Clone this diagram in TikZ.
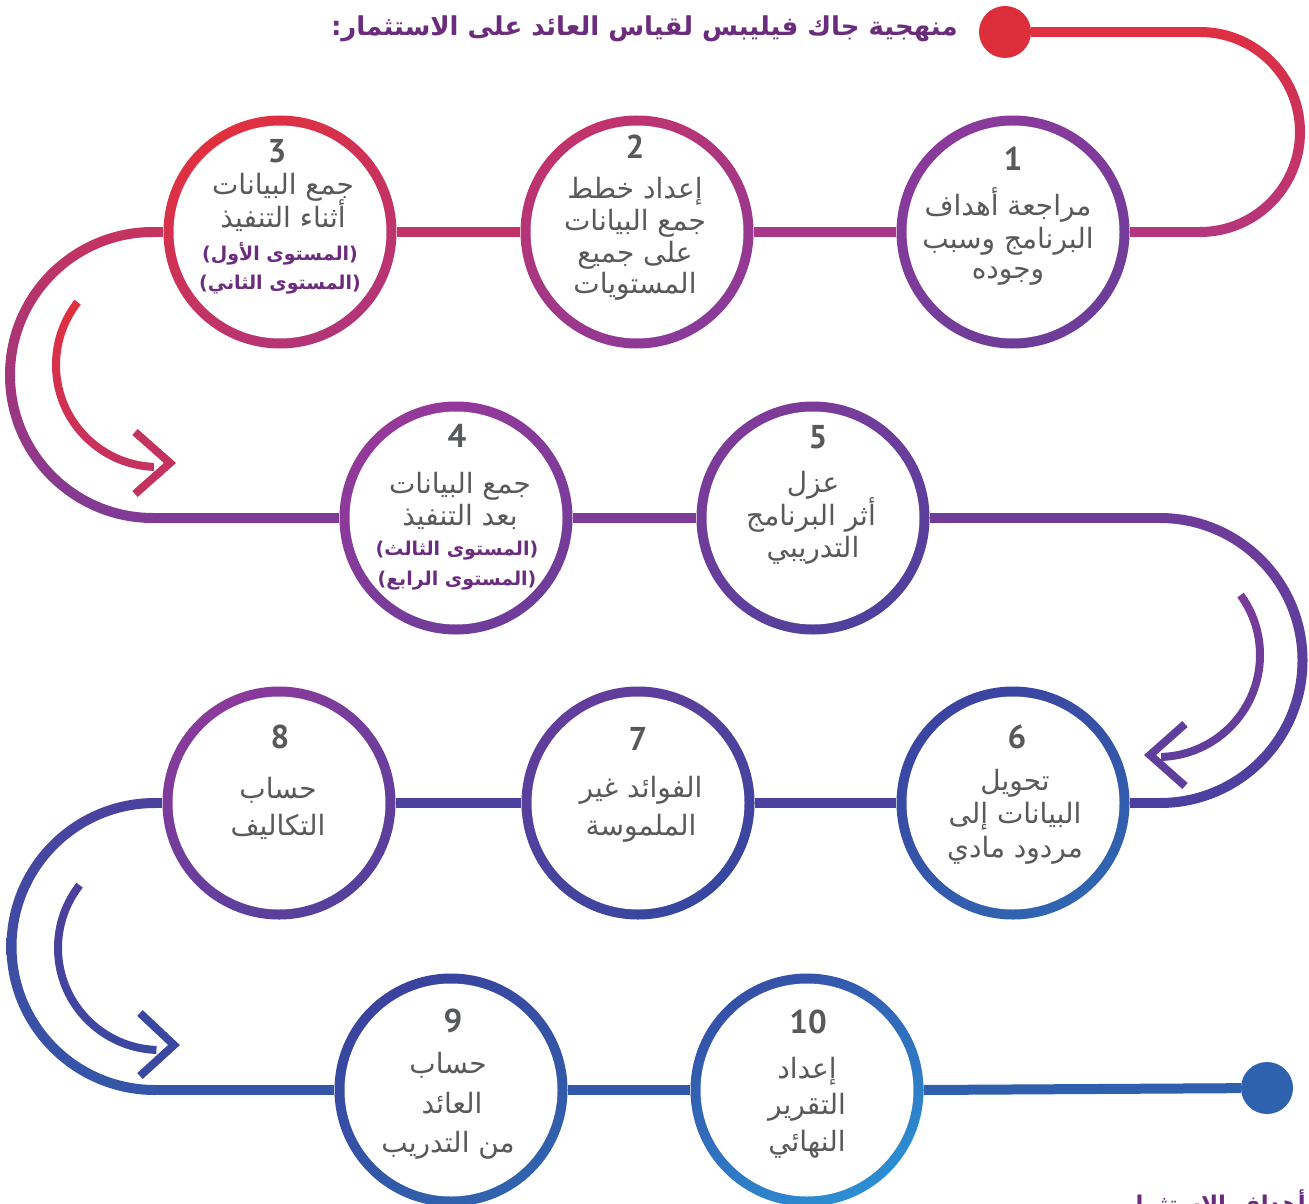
\documentclass[tikz,border=0pt]{standalone}
\usepackage{fontspec}
\usetikzlibrary{calc}
\TeXXeTstate=1
\newfontfamily\arabicfont[Script=Arabic]{DejaVu Sans}
\newfontfamily\numfont{PT Sans}
\definecolor{txtgray}{HTML}{58595B}
\definecolor{ttlpurple}{HTML}{6B2C7D}
% ring colours
\definecolor{ca1}{HTML}{8B3A9B}\definecolor{cb1}{HTML}{6C3D99}
\definecolor{ca2}{HTML}{C2336C}\definecolor{cb2}{HTML}{8A3A9B}
\definecolor{ca3}{HTML}{E1303E}\definecolor{cb3}{HTML}{B1357A}
\definecolor{ca4}{HTML}{95399A}\definecolor{cb4}{HTML}{6E3D99}
\definecolor{ca5}{HTML}{7F3B98}\definecolor{cb5}{HTML}{4E419D}
\definecolor{ca6}{HTML}{3B43A0}\definecolor{cb6}{HTML}{2F66B1}
\definecolor{ca7}{HTML}{633D9B}\definecolor{cb7}{HTML}{3647A0}
\definecolor{ca8}{HTML}{8A3A9B}\definecolor{cb8}{HTML}{55409C}
\definecolor{ca9}{HTML}{3A429D}\definecolor{cb9}{HTML}{3063AE}
\definecolor{ca10}{HTML}{3550A6}\definecolor{cb10}{HTML}{2C8ED3}
% line colours
\definecolor{lred}{HTML}{DE3040}
\definecolor{lmag}{HTML}{B5367E}
\definecolor{l12}{HTML}{A8378A}
\definecolor{l23}{HTML}{C2336A}
\definecolor{l3k}{HTML}{C6335F}
\definecolor{lk4}{HTML}{7F3A96}
\definecolor{l45}{HTML}{7E3B98}
\definecolor{l5k}{HTML}{6F3C98}
\definecolor{lk6}{HTML}{4B40A0}
\definecolor{lrow3}{HTML}{4A429E}
\definecolor{lk9}{HTML}{3456A8}
\definecolor{l910}{HTML}{3258A9}
\definecolor{lend}{HTML}{2F60AD}
\definecolor{dotred}{HTML}{DC2F3B}
\definecolor{dotblue}{HTML}{2F62AE}
\definecolor{arA}{HTML}{E2303E}\definecolor{arB}{HTML}{C43260}
\definecolor{arC}{HTML}{7A3B98}\definecolor{arD}{HTML}{5F3E9C}
\definecolor{arE}{HTML}{4F3F9C}\definecolor{arF}{HTML}{3A48A0}
\newcommand\halfring[8]{% cx cy r start end topcol botcol halfwidth
  \shade[top color=#6,bottom color=#7]
    ($(#1,#2)+({#4}:{#3+#8})$) arc[start angle=#4,end angle=#5,radius=#3+#8]
    -- ($(#1,#2)+({#5}:{#3-#8})$) arc[start angle=#5,end angle=#4,radius=#3-#8] -- cycle;}
\newcommand\tl[5]{\node[#4] (#1) at (#2,-#3) {#5};}
\begin{document}
\begin{tikzpicture}[x=1pt,y=1pt,
  ring/.style 2 args={circle, minimum size=233, inner sep=0pt, top color=#1, bottom color=#2, shading angle=30,
     path picture={\fill[white] (path picture bounding box.center) circle (106.5);}},
  body/.style={anchor=base, inner sep=0pt, text=txtgray, font=\arabicfont\fontsize{28}{32}\selectfont},
  sub/.style={anchor=base, inner sep=0pt, text=ttlpurple, font=\arabicfont\bfseries\fontsize{19}{22}\selectfont},
  num/.style={anchor=base, inner sep=0pt, text=txtgray, font=\numfont\bfseries\fontsize{33}{36}\selectfont},
  ttl/.style={inner sep=0pt, text=ttlpurple, font=\arabicfont\bfseries\fontsize{26}{30}\selectfont},
  conn/.style={line width=10pt},
  chev/.style={line width=8pt, line join=miter},
  enddot/.style={circle, minimum size=52, inner sep=0pt}
]
\useasboundingbox (0,0) rectangle (1309,-1204);
\fill[white] (0,0) rectangle (1309,-1204);

% curve coordinates
\coordinate (k1a) at (1200,-32);
\coordinate (k1b) at (1200,-232);
\coordinate (k2a) at (153,-232);
\coordinate (k2b) at (153,-518);
\coordinate (k3a) at (1160,-518);
\coordinate (k3b) at (1160,-803);
\coordinate (k4a) at (155,-803);
\coordinate (k4b) at (155,-1090);

% big curves
\halfring{1200}{-132}{100}{90}{-90}{lred}{lmag}{5}
\halfring{153}{-375}{143}{90}{270}{l3k}{lk4}{5}
\halfring{1160}{-660.5}{142.5}{90}{-90}{l5k}{lk6}{5}
\halfring{155}{-946.5}{143.5}{90}{270}{lrow3}{lk9}{5}

% inner arrows
\halfring{158}{-365}{102}{142}{268}{arA}{arB}{4}
\draw[chev, arB] (135,-432) -- (170,-463) -- (135,-494);
\halfring{1158}{-655}{102}{36}{-88}{arC}{arD}{4}
\draw[chev, arD] (1185,-724) -- (1150,-755) -- (1185,-786);
\halfring{160}{-948}{102}{142}{268}{arE}{arF}{4}
\draw[chev, arF] (140,-1013) -- (174,-1045) -- (140,-1076);

% dots
\node[enddot, fill=dotred] (startdot) at (1005,-32) {};
\node[enddot, fill=dotblue] (enddot) at (1267,-1088) {};

% rings
\node[ring={ca1}{cb1}] (c1) at (1013,-232) {};
\node[ring={ca2}{cb2}] (c2) at (637,-232) {};
\node[ring={ca3}{cb3}] (c3) at (280,-232) {};
\node[ring={ca4}{cb4}] (c4) at (456,-518) {};
\node[ring={ca5}{cb5}] (c5) at (813,-518) {};
\node[ring={ca6}{cb6}] (c6) at (1013,-803) {};
\node[ring={ca7}{cb7}] (c7) at (638,-803) {};
\node[ring={ca8}{cb8}] (c8) at (279,-803) {};
\node[ring={ca9}{cb9}] (c9) at (451,-1090) {};
\node[ring={ca10}{cb10}] (c10) at (807,-1090) {};

% connectors
\draw[conn, lred] (startdot) -- (k1a);
\draw[conn, lmag] (k1b) -- (c1.east);
\draw[conn, l12] (c1.west) -- (c2.east);
\draw[conn, l23] (c2.west) -- (c3.east);
\draw[conn, l3k] (c3.west) -- (k2a);
\draw[conn, lk4] (k2b) -- (c4.west);
\draw[conn, l45] (c4.east) -- (c5.west);
\draw[conn, l5k] (c5.east) -- (k3a);
\draw[conn, lk6] (k3b) -- (c6.east);
\draw[conn, lrow3] (c6.west) -- (c7.east);
\draw[conn, lrow3] (c7.west) -- (c8.east);
\draw[conn, lrow3] (c8.west) -- (k4a);
\draw[conn, lk9] (k4b) -- (c9.west);
\draw[conn, l910] (c9.east) -- (c10.west);
\draw[conn, lend] (c10.east) -- (enddot);

% title
\node[ttl, anchor=base east] (title) at (958,-36) {\beginR منهجية جاك فيليبس لقياس العائد على الاستثمار:\endR};

% texts
\node[num] (n1) at (1013,-170) {1};
\tl{t1a}{1008}{215}{body}{\beginR مراجعة أهداف\endR}
\tl{t1b}{1008}{248}{body}{\beginR البرنامج وسبب\endR}
\tl{t1c}{1008}{278}{body}{\beginR وجوده\endR}

\node[num] (n2) at (635,-159) {2};
\tl{t2a}{635}{198}{body}{\beginR إعداد خطط\endR}
\tl{t2b}{635}{230}{body}{\beginR جمع البيانات\endR}
\tl{t2c}{635}{262}{body}{\beginR على جميع\endR}
\tl{t2d}{635}{293}{body}{\beginR المستويات\endR}

\node[num] (n3) at (277,-163) {3};
\tl{t3a}{283}{194}{body}{\beginR جمع البيانات\endR}
\tl{t3b}{283}{227}{body}{\beginR أثناء التنفيذ\endR}
\tl{t3c}{280}{260}{sub}{\beginR (المستوى الأول)\endR}
\tl{t3d}{280}{289}{sub}{\beginR (المستوى الثاني)\endR}

\node[num] (n4) at (457,-447) {4};
\tl{t4a}{460}{493}{body}{\beginR جمع البيانات\endR}
\tl{t4b}{460}{525}{body}{\beginR بعد التنفيذ\endR}
\tl{t4c}{457}{555}{sub}{\beginR (المستوى الثالث)\endR}
\tl{t4d}{457}{585}{sub}{\beginR (المستوى الرابع)\endR}

\node[num] (n5) at (818,-448) {5};
\tl{t5a}{813}{492}{body}{\beginR عزل\endR}
\tl{t5b}{811}{525}{body}{\beginR أثر البرنامج\endR}
\tl{t5c}{813}{557}{body}{\beginR التدريبي\endR}

\node[num] (n6) at (1017,-748) {6};
\tl{t6a}{1015}{790}{body}{\beginR تحويل\endR}
\tl{t6b}{1015}{823}{body}{\beginR البيانات إلى\endR}
\tl{t6c}{1015}{857}{body}{\beginR مردود مادي\endR}

\node[num] (n7) at (638,-750) {7};
\tl{t7a}{641}{797}{body}{\beginR الفوائد غير\endR}
\tl{t7b}{641}{835}{body}{\beginR الملموسة\endR}

\node[num] (n8) at (280,-748) {8};
\tl{t8a}{278}{798}{body}{\beginR حساب\endR}
\tl{t8b}{278}{835}{body}{\beginR التكاليف\endR}

\node[num] (n9) at (453,-1032) {9};
\tl{t9a}{448}{1073}{body}{\beginR حساب\endR}
\tl{t9b}{452}{1113}{body}{\beginR العائد\endR}
\tl{t9c}{448}{1152}{body}{\beginR من التدريب\endR}

\node[num] (n10) at (808,-1033) {10};
\tl{t10a}{807}{1078}{body}{\beginR إعداد\endR}
\tl{t10b}{807}{1114}{body}{\beginR التقرير\endR}
\tl{t10c}{807}{1151}{body}{\beginR النهائي\endR}

% cut-off heading at the bottom edge
\begin{scope}
\clip (0,0) rectangle (1309,-1204);
\node[ttl, anchor=base east, font=\arabicfont\bfseries\fontsize{23}{27}\selectfont] (bottomtext) at (1306,-1212) {\beginR أهداف الاستثمار\endR};
\end{scope}
\end{tikzpicture}
\end{document}
